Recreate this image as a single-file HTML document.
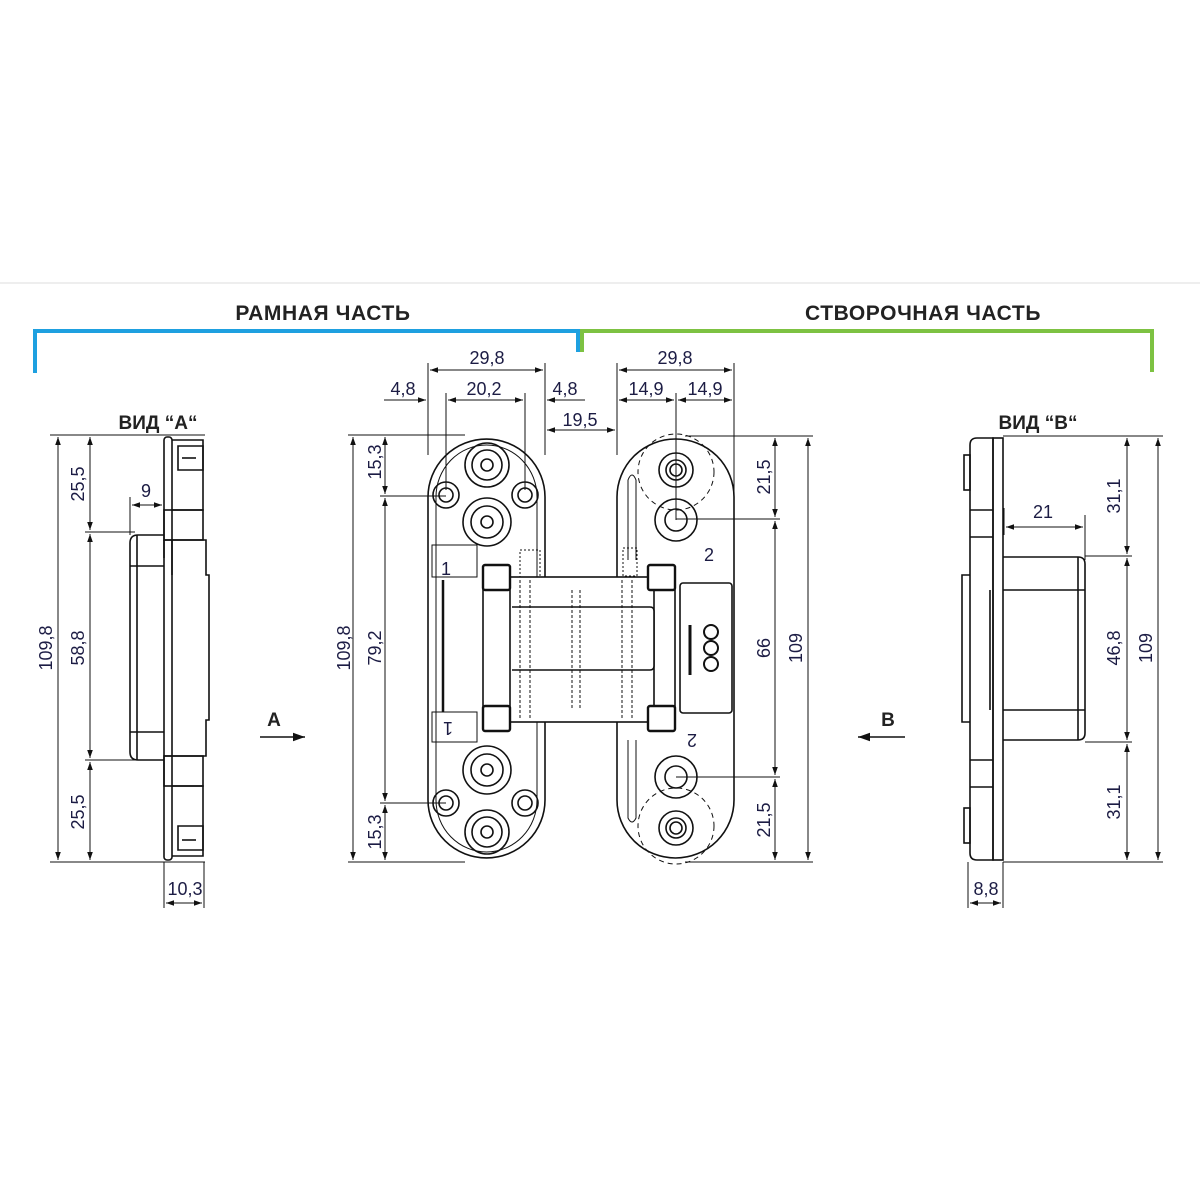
<!DOCTYPE html>
<html><head><meta charset="utf-8"><style>
html,body{margin:0;padding:0;background:#fff}
svg{display:block}
.t{font-family:"Liberation Sans Narrow","Liberation Sans",sans-serif;font-size:18px;fill:#1c1c44}
.h{font-family:"Liberation Sans",sans-serif;font-weight:bold;font-size:19px;fill:#222}
.hh{font-family:"Liberation Sans",sans-serif;font-weight:bold;font-size:21px;letter-spacing:0.6px;fill:#222}
</style></head><body>
<svg width="1200" height="1200" viewBox="0 0 1200 1200" xmlns="http://www.w3.org/2000/svg">
<defs>
<marker id="a" viewBox="0 0 10 10" refX="10" refY="5" markerWidth="8" markerHeight="8" orient="auto-start-reverse"><path d="M0,1.5 L10,5 L0,8.5z" fill="#111"/></marker>
</defs>
<line x1="0" y1="283" x2="1200" y2="283" stroke="#ddd" stroke-width="1"/>
<path d="M35,373 V331 H578 V352" fill="none" stroke="#1ea0e0" stroke-width="4"/>
<path d="M582,352 V331 H1152 V372" fill="none" stroke="#7dc242" stroke-width="4"/>
<text class="hh" x="323" y="320" text-anchor="middle">РАМНАЯ ЧАСТЬ</text>
<text class="hh" x="923" y="320" text-anchor="middle">СТВОРОЧНАЯ ЧАСТЬ</text>

<g stroke="#111" stroke-width="1" fill="none">
<line x1="428" y1="363" x2="428" y2="455"/><line x1="545" y1="363" x2="545" y2="455"/>
<line x1="430" y1="370" x2="543" y2="370" marker-start="url(#a)" marker-end="url(#a)"/>
<line x1="446" y1="393" x2="446" y2="490"/><line x1="525" y1="393" x2="525" y2="490"/>
<line x1="384" y1="400" x2="426" y2="400" marker-end="url(#a)"/>
<line x1="448" y1="400" x2="523" y2="400" marker-start="url(#a)" marker-end="url(#a)"/>
<line x1="547" y1="400" x2="585" y2="400" marker-start="url(#a)"/>
<line x1="617" y1="363" x2="617" y2="455"/><line x1="734" y1="363" x2="734" y2="500"/>
<line x1="547" y1="430" x2="615" y2="430" marker-start="url(#a)" marker-end="url(#a)"/>
<line x1="619" y1="370" x2="732" y2="370" marker-start="url(#a)" marker-end="url(#a)"/>
<line x1="676" y1="393" x2="676" y2="520"/>
<line x1="619" y1="400" x2="674" y2="400" marker-start="url(#a)" marker-end="url(#a)"/>
<line x1="678" y1="400" x2="732" y2="400" marker-start="url(#a)" marker-end="url(#a)"/>
<line x1="348" y1="435" x2="465" y2="435"/><line x1="348" y1="862" x2="465" y2="862"/>
<line x1="380" y1="496" x2="446" y2="496"/><line x1="380" y1="803" x2="446" y2="803"/>
<line x1="353" y1="437" x2="353" y2="860" marker-start="url(#a)" marker-end="url(#a)"/>
<line x1="385" y1="437" x2="385" y2="494" marker-start="url(#a)" marker-end="url(#a)"/>
<line x1="385" y1="498" x2="385" y2="801" marker-start="url(#a)" marker-end="url(#a)"/>
<line x1="385" y1="805" x2="385" y2="860" marker-start="url(#a)" marker-end="url(#a)"/>
<line x1="685" y1="436" x2="813" y2="436"/><line x1="685" y1="862" x2="813" y2="862"/>
<line x1="676" y1="519" x2="780" y2="519"/><line x1="676" y1="777" x2="780" y2="777"/>
<line x1="808" y1="438" x2="808" y2="860" marker-start="url(#a)" marker-end="url(#a)"/>
<line x1="775" y1="438" x2="775" y2="517" marker-start="url(#a)" marker-end="url(#a)"/>
<line x1="775" y1="521" x2="775" y2="775" marker-start="url(#a)" marker-end="url(#a)"/>
<line x1="775" y1="779" x2="775" y2="860" marker-start="url(#a)" marker-end="url(#a)"/>
<line x1="50" y1="435" x2="205" y2="435"/><line x1="50" y1="862" x2="205" y2="862"/>
<line x1="85" y1="532" x2="135" y2="532"/><line x1="85" y1="760" x2="135" y2="760"/>
<line x1="58" y1="437" x2="58" y2="860" marker-start="url(#a)" marker-end="url(#a)"/>
<line x1="90" y1="437" x2="90" y2="530" marker-start="url(#a)" marker-end="url(#a)"/>
<line x1="90" y1="534" x2="90" y2="758" marker-start="url(#a)" marker-end="url(#a)"/>
<line x1="90" y1="762" x2="90" y2="860" marker-start="url(#a)" marker-end="url(#a)"/>
<line x1="130" y1="497" x2="130" y2="535"/>
<line x1="132" y1="505" x2="162" y2="505" marker-start="url(#a)" marker-end="url(#a)"/>
<line x1="164" y1="862" x2="164" y2="908"/><line x1="204" y1="862" x2="204" y2="908"/>
<line x1="166" y1="903" x2="202" y2="903" marker-start="url(#a)" marker-end="url(#a)"/>
<line x1="1003" y1="436" x2="1163" y2="436"/><line x1="1003" y1="862" x2="1163" y2="862"/>
<line x1="1085" y1="556" x2="1132" y2="556"/><line x1="1085" y1="742" x2="1132" y2="742"/>
<line x1="1158" y1="438" x2="1158" y2="860" marker-start="url(#a)" marker-end="url(#a)"/>
<line x1="1127" y1="438" x2="1127" y2="554" marker-start="url(#a)" marker-end="url(#a)"/>
<line x1="1127" y1="558" x2="1127" y2="740" marker-start="url(#a)" marker-end="url(#a)"/>
<line x1="1127" y1="744" x2="1127" y2="860" marker-start="url(#a)" marker-end="url(#a)"/>
<line x1="1004" y1="508" x2="1004" y2="535"/><line x1="1085" y1="515" x2="1085" y2="560"/>
<line x1="1006" y1="527" x2="1083" y2="527" marker-start="url(#a)" marker-end="url(#a)"/>
<line x1="968" y1="862" x2="968" y2="908"/><line x1="1003" y1="862" x2="1003" y2="908"/>
<line x1="970" y1="903" x2="1001" y2="903" marker-start="url(#a)" marker-end="url(#a)"/>
<line x1="260" y1="737" x2="305" y2="737" marker-end="url(#a)" stroke-width="1.5"/>
<line x1="905" y1="737" x2="858" y2="737" marker-end="url(#a)" stroke-width="1.5"/>

<g stroke-width="1.6">
<rect x="164" y="437" width="8" height="423" rx="3"/>
<path d="M172,440 H203 V510 H172"/><path d="M178,446 H203 V470 H178z"/><path d="M182,458 H196"/>
<rect x="164" y="510" width="39" height="30"/>
<path d="M164,540 V558 M172,540 V575"/>
<path d="M164,540 H206 V575 H209 V720 H206 V756 H164"/>
<path d="M164,535 H138 Q130,535 130,543 V752 Q130,760 138,760 H164"/>
<path d="M137,535 V760 M130,566 H164 M130,732 H164"/>
<rect x="164" y="756" width="39" height="30"/>
<path d="M172,786 H203 V856 H172"/><path d="M178,826 H203 V850 H178z"/><path d="M182,840 H196"/>
</g>
<g stroke-width="1.6">
<path d="M970,445 Q970,438 977,438 H993 V860 H977 Q970,860 970,853z"/>
<rect x="993" y="438" width="10" height="422"/>
<path d="M970,510 H993 M970,537 H993 M970,760 H993 M970,787 H993"/>
<rect x="964" y="455" width="6" height="35"/><rect x="964" y="808" width="6" height="35"/>
<path d="M970,575 H962 V722 H970"/>
<path d="M1003,557 H1078 Q1085,557 1085,564 V733 Q1085,740 1078,740 H1003"/>
<path d="M1078,557 V740 M1003,590 H1085 M1003,710 H1085 M990,590 V710"/>
</g>

<g stroke-width="1.6">
<path d="M428,497 A58.5,58 0 0 1 545,497 V800 A58.5,58 0 0 1 428,800 Z"/>
<path d="M436,497 A50.5,52 0 0 1 537,497 V800 A50.5,52 0 0 1 436,800 Z" stroke-width="1"/>
<circle cx="487" cy="465" r="22"/><circle cx="487" cy="465" r="15"/><circle cx="487" cy="465" r="6"/>
<circle cx="446" cy="495" r="13"/><circle cx="446" cy="495" r="7"/>
<circle cx="525" cy="495" r="13"/><circle cx="525" cy="495" r="7"/>
<circle cx="487" cy="522" r="24"/><circle cx="487" cy="522" r="16"/><circle cx="487" cy="522" r="6"/>
<circle cx="487" cy="770" r="24"/><circle cx="487" cy="770" r="16"/><circle cx="487" cy="770" r="6"/>
<circle cx="446" cy="803" r="13"/><circle cx="446" cy="803" r="7"/>
<circle cx="525" cy="803" r="13"/><circle cx="525" cy="803" r="7"/>
<circle cx="487" cy="832" r="22"/><circle cx="487" cy="832" r="15"/><circle cx="487" cy="832" r="6"/>
<rect x="432" y="545" width="45" height="32" stroke-width="1"/>
<rect x="432" y="712" width="45" height="30" stroke-width="1"/>
<path d="M443,580 V712" stroke-width="2.5"/>
<rect x="520" y="550" width="20" height="30" stroke-dasharray="2,2" stroke-width="1"/>
</g>
<g stroke-width="1.6">
<path d="M617,497 A58.5,58 0 0 1 734,497 V800 A58.5,58 0 0 1 617,800 Z"/>
<circle cx="676" cy="472" r="38" stroke-dasharray="5,4" stroke-width="1"/>
<circle cx="676" cy="826" r="38" stroke-dasharray="5,4" stroke-width="1"/>
<circle cx="676" cy="470" r="17"/><circle cx="676" cy="470" r="10"/><circle cx="676" cy="470" r="6"/>
<circle cx="676" cy="520" r="21"/><circle cx="676" cy="520" r="11"/>
<circle cx="676" cy="777" r="21"/><circle cx="676" cy="777" r="11"/>
<circle cx="676" cy="828" r="17"/><circle cx="676" cy="828" r="10"/><circle cx="676" cy="828" r="6"/>
<path d="M628,560 V480 Q632,470 636,480 V560" stroke-width="1"/>
<path d="M628,740 V818 Q632,826 636,818 V740" stroke-width="1"/>
<rect x="623" y="548" width="14" height="28" stroke-dasharray="2,2" stroke-width="1"/>
</g>
<g stroke-width="1.6">
<rect x="483" y="577" width="192" height="145" fill="#fff"/>
<path d="M510,577 V722 M654,577 V722"/>
<path d="M512,607 H650 Q654,607 654,611 V666 Q654,670 650,670 H512" fill="#fff"/>
<rect x="680" y="583" width="52" height="130" rx="3"/>
<rect x="483" y="565" width="27" height="25" rx="2" stroke-width="2.4" fill="#fff"/>
<rect x="648" y="565" width="27" height="25" rx="2" stroke-width="2.4" fill="#fff"/>
<rect x="483" y="706" width="27" height="25" rx="2" stroke-width="2.4" fill="#fff"/>
<rect x="648" y="706" width="27" height="25" rx="2" stroke-width="2.4" fill="#fff"/>
<path d="M520,580 V720 M530,580 V720 M572,590 V710 M580,590 V710 M622,580 V720 M632,580 V720" stroke-dasharray="3,2" stroke-width="1"/>
<circle cx="711" cy="632" r="7" stroke-width="2"/><circle cx="711" cy="648" r="7" stroke-width="2"/><circle cx="711" cy="664" r="7" stroke-width="2"/>
<path d="M690,625 V675" stroke-width="3"/>
</g>
</g>

<text class="t" x="487" y="364" text-anchor="middle">29,8</text>
<text class="t" x="403" y="395" text-anchor="middle">4,8</text>
<text class="t" x="484" y="395" text-anchor="middle">20,2</text>
<text class="t" x="565" y="395" text-anchor="middle">4,8</text>
<text class="t" x="580" y="426" text-anchor="middle">19,5</text>
<text class="t" x="675" y="364" text-anchor="middle">29,8</text>
<text class="t" x="646" y="395" text-anchor="middle">14,9</text>
<text class="t" x="705" y="395" text-anchor="middle">14,9</text>
<text class="t" font-size="22" x="441" y="575" fill="#333">1</text>
<text class="t" font-size="22" x="704" y="561" fill="#333">2</text>
<text class="t" font-size="22" transform="translate(453,722) rotate(180)" fill="#333">1</text>
<text class="t" font-size="22" transform="translate(697,734) rotate(180)" fill="#333">2</text>
<g class="t">
<text transform="translate(350,648) rotate(-90)" text-anchor="middle">109,8</text>
<text transform="translate(381,462) rotate(-90)" text-anchor="middle">15,3</text>
<text transform="translate(381,648) rotate(-90)" text-anchor="middle">79,2</text>
<text transform="translate(381,832) rotate(-90)" text-anchor="middle">15,3</text>
<text transform="translate(770,477) rotate(-90)" text-anchor="middle">21,5</text>
<text transform="translate(770,648) rotate(-90)" text-anchor="middle">66</text>
<text transform="translate(770,820) rotate(-90)" text-anchor="middle">21,5</text>
<text transform="translate(802,648) rotate(-90)" text-anchor="middle">109</text>
<text transform="translate(52,648) rotate(-90)" text-anchor="middle">109,8</text>
<text transform="translate(84,484) rotate(-90)" text-anchor="middle">25,5</text>
<text transform="translate(84,648) rotate(-90)" text-anchor="middle">58,8</text>
<text transform="translate(84,812) rotate(-90)" text-anchor="middle">25,5</text>
<text transform="translate(1152,648) rotate(-90)" text-anchor="middle">109</text>
<text transform="translate(1120,496) rotate(-90)" text-anchor="middle">31,1</text>
<text transform="translate(1120,648) rotate(-90)" text-anchor="middle">46,8</text>
<text transform="translate(1120,802) rotate(-90)" text-anchor="middle">31,1</text>
</g>
<text class="t" x="146" y="497" text-anchor="middle">9</text>
<text class="t" x="185" y="895" text-anchor="middle">10,3</text>
<text class="t" x="1043" y="518" text-anchor="middle">21</text>
<text class="t" x="986" y="895" text-anchor="middle">8,8</text>
<text class="h" x="158" y="429" text-anchor="middle">ВИД “А“</text>
<text class="h" x="1038" y="429" text-anchor="middle">ВИД “В“</text>
<text class="h" x="274" y="726" text-anchor="middle" font-size="16">А</text>
<text class="h" x="888" y="726" text-anchor="middle" font-size="16">В</text>
</svg>
</body></html>
